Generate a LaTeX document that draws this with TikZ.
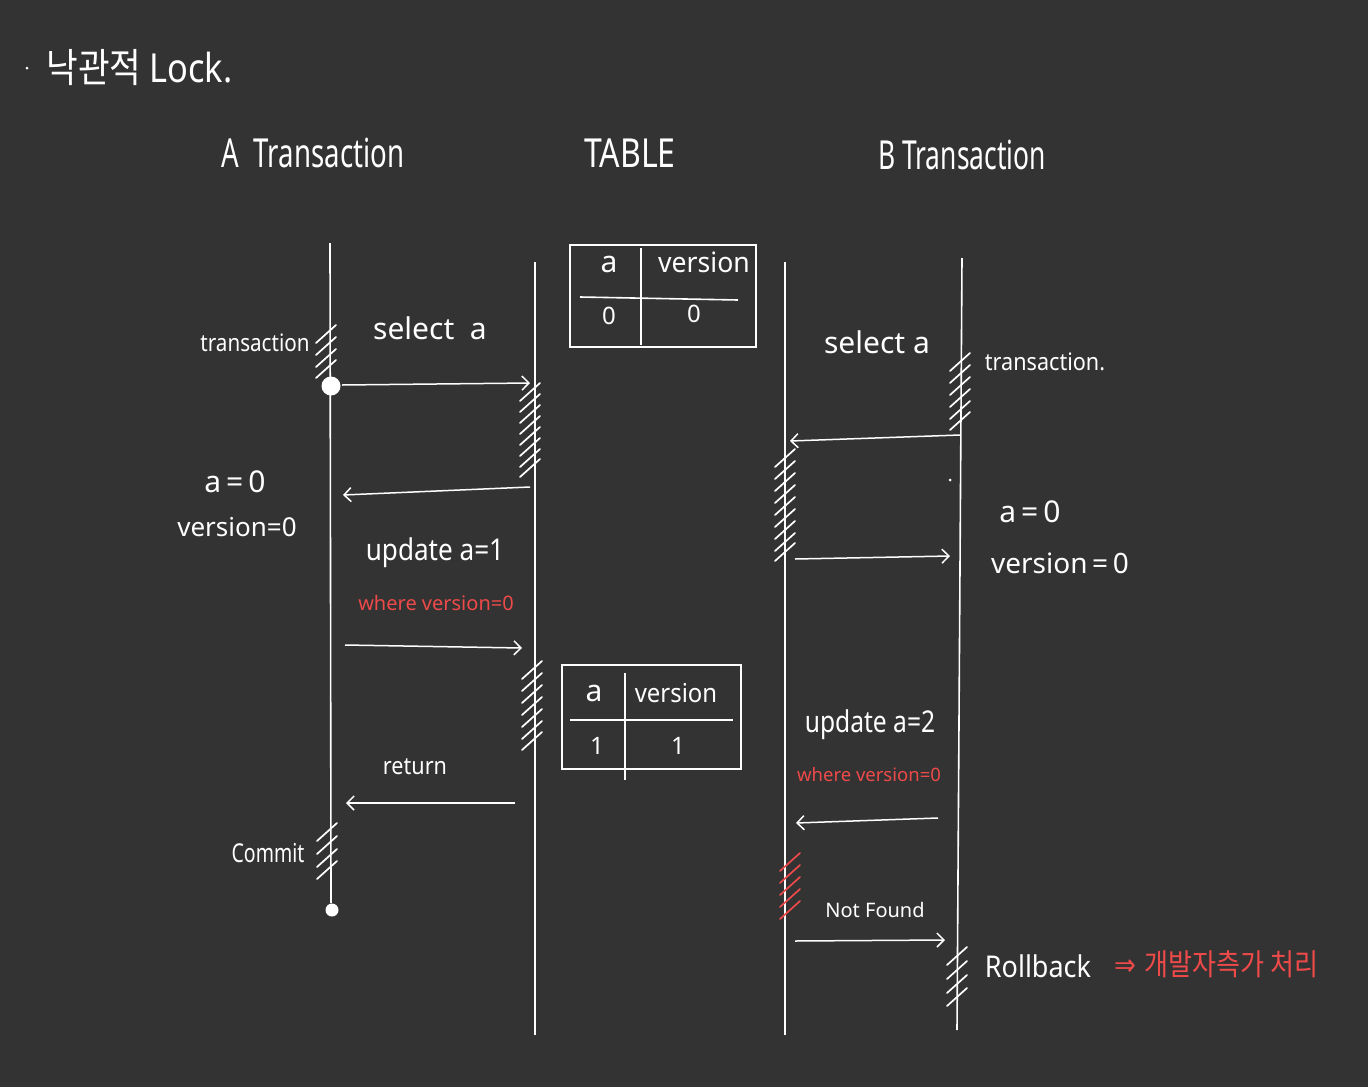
\documentclass[tikz,border=0pt]{standalone}
\usepackage{fontspec}
\setmainfont{Noto Sans}
\newfontfamily\krfont{Noto Sans CJK KR}
\newfontfamily\symfont{DejaVu Sans}
\usepackage{tikz}
\usetikzlibrary{arrows.meta}

\definecolor{board}{HTML}{333333}
\definecolor{penred}{HTML}{EE4A4A}

% short slanted strokes on a lifeline: [colour]{x}{list of y}
\newcommand{\hatch}[3][white]{%
  \foreach \hy in {#3}
    \draw[#1, line width=1.7pt, line cap=round] ({#2-10},{\hy+9}) -- ({#2+10},{\hy-9});}

\begin{document}
\begin{tikzpicture}[x=1pt, y=-1pt, line width=1.6pt, white,
    head/.style={text=white, inner sep=0pt, font=\fontsize{40}{40}\selectfont},
    lbl/.style={text=white, inner sep=0pt, font=\fontsize{30}{30}\selectfont},
    small/.style={text=white, inner sep=0pt, font=\fontsize{24}{24}\selectfont},
    redlbl/.style={text=penred, inner sep=0pt, font=\fontsize{20}{20}\selectfont},
    msg/.style={draw=white, line width=1.5pt, -{Straight Barb[length=7pt,width=14pt]}},
    dot/.style={circle, fill=white, inner sep=0pt}]

	%Background
      \fill[board] (0,0) rectangle (1368,1087);
      \useasboundingbox (0,0) rectangle (1368,1087);

	%Title
      \node[dot, minimum size=3pt] (tdot) at (27,68) {};
      \node[lbl, anchor=west, xscale=0.86, font=\fontsize{40}{40}\selectfont] (title) at (46,68) {\krfont 낙관적\ \rmfamily Lock.};

	%Headers
      \node[head, xscale=0.69] (headA) at (313,153) {A\ \ Transaction};
      \node[head, xscale=0.8] (headT) at (630,153) {TABLE};
      \node[head, xscale=0.66] (headB) at (962,155) {B Transaction};

	%Lifelines
      \coordinate (Atop) at (330,243);
      \coordinate (Abot) at (331,903);
      \coordinate (Ttop) at (535,262);
      \coordinate (Tbot) at (535,1035);
      \coordinate (Ltop) at (785,262);
      \coordinate (Lbot) at (785,1035);
      \coordinate (Btop) at (962,258);
      \coordinate (Bbot) at (957,1030);
      \draw (Atop) -- (Abot);
      \draw (Ttop) -- (Tbot);
      \draw (Ltop) -- (Lbot);
      \draw (Btop) -- (Bbot);
      \node[dot, minimum width=15pt, minimum height=19pt] (Astart) at (331,386) {};
      \node[dot, minimum size=13pt] (Aend) at (332,910) {};
      \node[dot, minimum size=3pt] (Bmark) at (950,480) {};

	%Hatches
      \hatch{326}{334,346,358,369}
      \hatch{530}{392,403,414,425,436,447,458,468}
      \hatch{532}{670,682,694,706,718,730,741}
      \hatch{327}{832,845,858,870}
      \hatch{960}{362,374,386,398,410,421}
      \hatch{785}{458,470,482,494,506,518,530,542,552}
      \hatch[penred]{790}{862,874,886,898,910}
      \hatch{957}{956,970,984,997}

	%Tables
      \draw (570,245) rectangle (756,347);
      \draw (641,248) -- (641,345);
      \draw (580,297) -- (738,300);
      \node[lbl] (t1a) at (609,264) {a};
      \node[small, font=\fontsize{28}{28}\selectfont, xscale=0.95] (t1v) at (704,262) {version};
      \node[small] (t1a0) at (609,316) {0};
      \node[small] (t1v0) at (694,314) {0};

      \draw (562,665) rectangle (741,769);
      \draw (625,673) -- (625,780);
      \draw (570,720) -- (733,720);
      \node[lbl] (t2a) at (594,693) {a};
      \node[small, font=\fontsize{26}{26}\selectfont, xscale=0.92] (t2v) at (676,693) {version};
      \node[small] (t2a1) at (597,746) {1};
      \node[small] (t2v1) at (678,746) {1};

	%A side
      \node[small, xscale=0.86] (txA) at (255,343) {transaction};
      \node[lbl, xscale=1.0] (selA) at (430,328) {select\ \ a};
      \coordinate (s1) at (342,385);
      \coordinate (e1) at (530,383);
      \draw[msg] (s1) -- (e1);

      \coordinate (s2) at (530,487);
      \coordinate (e2) at (343,495);
      \draw[msg] (s2) -- (e2);
      \node[lbl] (resA1) at (235,482) {a\,=\,0};
      \node[small, font=\fontsize{26}{26}\selectfont] (resA2) at (237,527) {version=0};

      \node[lbl, xscale=0.87] (updA) at (435,553) {update a=1};
      \node[redlbl] (whereA) at (436,603) {where version=0};
      \coordinate (s3) at (345,645);
      \coordinate (e3) at (522,648);
      \draw[msg] (s3) -- (e3);

      \node[small, xscale=0.9] (retA) at (415,767) {return};
      \coordinate (s4) at (515,803);
      \coordinate (e4) at (346,803);
      \draw[msg] (s4) -- (e4);

      \node[small, font=\fontsize{26}{26}\selectfont, xscale=0.75] (comA) at (268,853) {Commit};

	%B side
      \node[lbl] (selB) at (877,342) {select a};
      \node[small, xscale=0.9] (txB) at (1045,362) {transaction.};
      \coordinate (s5) at (960,435);
      \coordinate (e5) at (790,441);
      \draw[msg] (s5) -- (e5);

      \coordinate (s6) at (795,559);
      \coordinate (e6) at (950,556);
      \draw[msg] (s6) -- (e6);
      \node[lbl] (resB1) at (1030,512) {a\,=\,0};
      \node[small, font=\fontsize{28}{28}\selectfont] (resB2) at (1060,563) {version\,=\,0};

      \node[lbl, xscale=0.82] (updB) at (870,725) {update a=2};
      \node[redlbl, font=\fontsize{18.5}{18.5}\selectfont] (whereB) at (869,775) {where version=0};
      \coordinate (s7) at (938,818);
      \coordinate (e7) at (796,823);
      \draw[msg] (s7) -- (e7);

      \node[small, font=\fontsize{20}{20}\selectfont] (nfB) at (875,910) {Not Found};
      \coordinate (s8) at (795,941);
      \coordinate (e8) at (945,940);
      \draw[msg] (s8) -- (e8);

      \node[lbl, xscale=0.9] (rbB) at (1038,966) {Rollback};
      \node[redlbl, anchor=west, xscale=0.87, font=\fontsize{30}{30}\selectfont] (todo) at (1114,964) {\symfont ⇒\ \krfont 개발자측가 처리};

\end{tikzpicture}
\end{document}
